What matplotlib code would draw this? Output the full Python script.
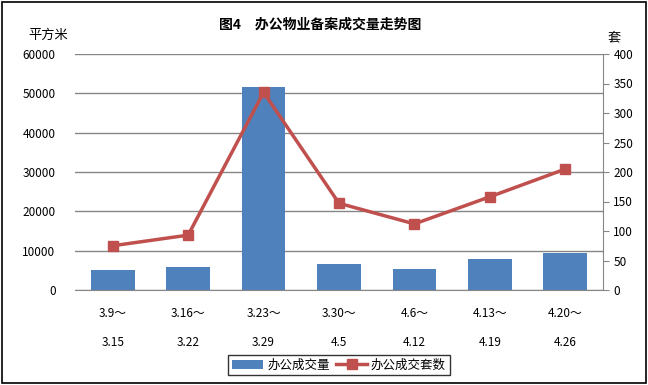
import matplotlib.pyplot as plt
import numpy as np

plt.rcParams['font.family'] = ['Noto Sans CJK SC', 'DejaVu Sans']

# data
periods = ['3.9～\n\n3.15', '3.16～\n\n3.22', '3.23～\n\n3.29', '3.30～\n\n4.5',
           '4.6～\n\n4.12', '4.13～\n\n4.19', '4.20～\n\n4.26']
area = [5200, 5900, 51600, 6600, 5300, 7900, 9400]      # 平方米
units = [75, 93, 335, 147, 112, 158, 205]                # 套

bar_color = '#4f81bd'
line_color = '#c0504d'
grid_color = '#868686'

fig = plt.figure(figsize=(6.48, 3.85), dpi=100)
ax = fig.add_axes([75 / 648, 1 - 290 / 385, 528 / 648, 236 / 385])
x = np.arange(len(periods))

ax.bar(x, area, width=0.58, color=bar_color, zorder=2, label='办公成交量')
ax.set_ylim(0, 60000)
ax.set_yticks(range(0, 60001, 10000))
ax.set_xlim(-0.5, len(periods) - 0.5)
ax.set_xticks(x)
ax.set_xticklabels(periods, fontsize=8.5, linespacing=1.18)
ax.tick_params(axis='x', length=0, pad=12)
ax.tick_params(axis='y', length=0, labelsize=8.5, pad=14)
ax.yaxis.grid(True, color=grid_color, linewidth=1, zorder=0)
for s in ['top', 'left', 'right']:
    ax.spines[s].set_visible(False)
ax.spines['bottom'].set_color(grid_color)

ax2 = ax.twinx()
ax2.plot(x, units, color=line_color, linewidth=2.5, marker='s', markersize=6.5,
         zorder=3, label='办公成交套数')
ax2.set_ylim(0, 400)
ax2.set_yticks(range(0, 401, 50))
ax2.tick_params(axis='y', labelsize=8.5, color=grid_color, length=4, direction='out')
for s in ['top', 'left', 'bottom']:
    ax2.spines[s].set_visible(False)
ax2.spines['right'].set_color(grid_color)

fig.text(320 / 648, 1 - 25 / 385, '图4　办公物业备案成交量走势图', ha='center', va='center',
         fontsize=10, fontweight='bold')
fig.text(48 / 648, 1 - 35 / 385, '平方米', ha='center', va='center', fontsize=9.5)
fig.text(614 / 648, 1 - 38 / 385, '套', ha='center', va='center', fontsize=9.5)

h1, l1 = ax.get_legend_handles_labels()
h2, l2 = ax2.get_legend_handles_labels()
fig.legend(h1 + h2, l1 + l2, loc='center', bbox_to_anchor=(339 / 648, 1 - 365 / 385),
           ncol=2, fontsize=9, frameon=True, fancybox=False, edgecolor='black',
           handlelength=2.5, columnspacing=0.5, handletextpad=0.3, borderpad=0.3)

fig.patches.append(plt.Rectangle((0.003, 0.004), 0.994, 0.992, transform=fig.transFigure,
                                 fill=False, edgecolor='black', linewidth=1.2))

fig.savefig('out.png', dpi=100)
